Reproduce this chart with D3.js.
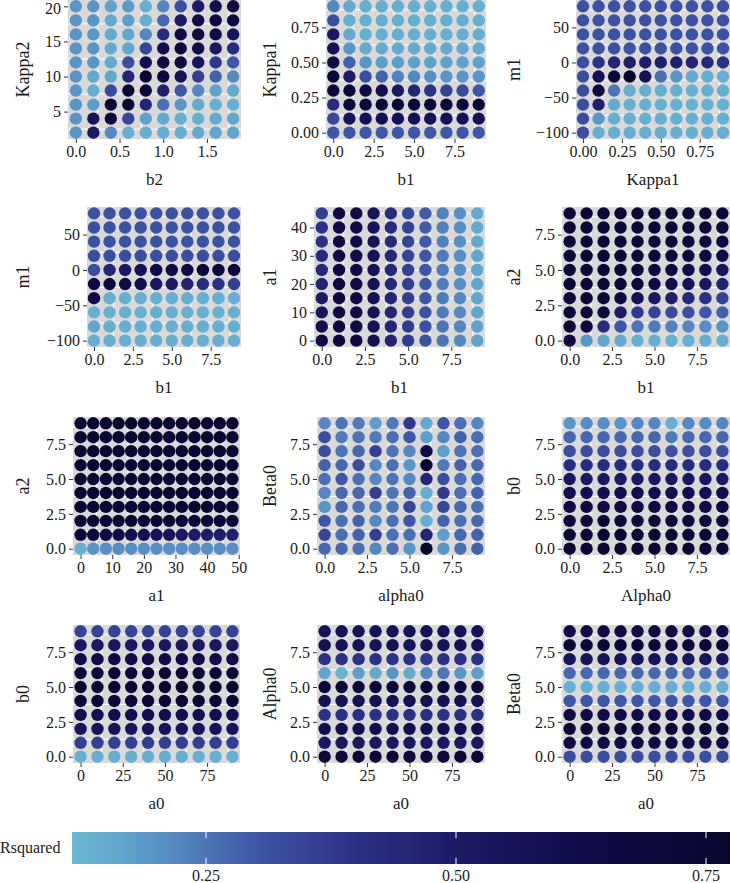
<!DOCTYPE html>
<meta charset="utf-8">
<script src="https://d3js.org/d3.v7.min.js"></script>
<style>
  body { margin: 0; background: #fff; }
  text { font-family: "Liberation Serif", "Times New Roman", "DejaVu Serif", serif; fill: #1a1a1a; }
</style>
<body>
<div id="my_dataviz"></div>
<script>

// ---------- data (rows listed from top of each panel to bottom) ----------
var b2 = [0, 0.2, 0.4, 0.6, 0.8, 1.0, 1.2, 1.4, 1.6, 1.8];
var b1 = [0, 1, 2, 3, 4, 5, 6, 7, 8, 9];
var kappa1Cols = [0, 0.1, 0.2, 0.3, 0.4, 0.5, 0.6, 0.7, 0.8, 0.9];
var a1Cols = [0, 4, 8, 12, 16, 20, 24, 28, 32, 36, 40, 44, 48];
var alpha0Cols = [0, 1, 2, 3, 4, 5, 6, 7, 8, 9];
var a0 = [0, 10, 20, 30, 40, 50, 60, 70, 80, 90];

var kappa2Rows = [20, 18, 16, 14, 12, 10, 8, 6, 4, 2];
var kappa1Rows = [0.9, 0.8, 0.7, 0.6, 0.5, 0.4, 0.3, 0.2, 0.1, 0];
var m1Rows = [80, 60, 40, 20, 0, -20, -40, -60, -80, -100];
var a1Rows = [45, 40, 35, 30, 25, 20, 15, 10, 5, 0];
var a2Rows = [9, 8, 7, 6, 5, 4, 3, 2, 1, 0];
var beta0Rows = [9, 8, 7, 6, 5, 4, 3, 2, 1, 0];
var b0Rows = [9, 8, 7, 6, 5, 4, 3, 2, 1, 0];
var alpha0Rows = [9, 8, 7, 6, 5, 4, 3, 2, 1, 0];

var rsqB2Kappa2 = [
  [0.20,0.20,0.17,0.19,0.14,0.22,0.32,0.50,0.60,0.66],
  [0.20,0.20,0.15,0.18,0.14,0.27,0.50,0.62,0.66,0.66],
  [0.20,0.20,0.15,0.16,0.22,0.42,0.62,0.66,0.62,0.55],
  [0.20,0.20,0.15,0.16,0.34,0.60,0.70,0.62,0.52,0.42],
  [0.20,0.20,0.15,0.32,0.60,0.70,0.68,0.55,0.38,0.30],
  [0.20,0.15,0.16,0.45,0.75,0.70,0.55,0.36,0.28,0.22],
  [0.20,0.14,0.33,0.75,0.72,0.48,0.30,0.22,0.17,0.15],
  [0.20,0.18,0.74,0.72,0.45,0.26,0.20,0.15,0.14,0.14],
  [0.20,0.55,0.72,0.34,0.17,0.15,0.14,0.14,0.15,0.16],
  [0.20,0.50,0.22,0.14,0.14,0.14,0.14,0.15,0.16,0.16]
];
var rsqB1Kappa1 = [
  [0.22,0.15,0.14,0.14,0.14,0.14,0.14,0.14,0.14,0.14],
  [0.32,0.14,0.14,0.14,0.14,0.14,0.14,0.14,0.14,0.14],
  [0.52,0.15,0.14,0.14,0.14,0.14,0.14,0.14,0.14,0.14],
  [0.58,0.20,0.15,0.15,0.15,0.15,0.15,0.15,0.15,0.15],
  [0.65,0.28,0.20,0.18,0.18,0.17,0.17,0.17,0.17,0.17],
  [0.72,0.50,0.32,0.28,0.23,0.22,0.21,0.20,0.20,0.20],
  [0.68,0.72,0.65,0.60,0.52,0.45,0.40,0.35,0.33,0.30],
  [0.42,0.68,0.70,0.72,0.72,0.72,0.72,0.72,0.72,0.72],
  [0.33,0.55,0.57,0.58,0.58,0.58,0.58,0.58,0.58,0.58],
  [0.30,0.30,0.30,0.30,0.30,0.30,0.30,0.30,0.30,0.30]
];
var rsqKappa1M1 = [
  [0.31,0.31,0.31,0.31,0.31,0.31,0.31,0.31,0.31,0.31],
  [0.31,0.31,0.31,0.31,0.31,0.31,0.31,0.31,0.31,0.31],
  [0.31,0.31,0.31,0.31,0.31,0.31,0.31,0.31,0.31,0.31],
  [0.31,0.31,0.31,0.31,0.31,0.31,0.31,0.31,0.31,0.31],
  [0.32,0.40,0.46,0.48,0.48,0.48,0.48,0.46,0.44,0.40],
  [0.32,0.58,0.72,0.76,0.58,0.26,0.20,0.15,0.14,0.14],
  [0.32,0.66,0.25,0.14,0.14,0.14,0.14,0.14,0.14,0.14],
  [0.32,0.48,0.15,0.14,0.14,0.14,0.14,0.14,0.14,0.14],
  [0.32,0.20,0.14,0.14,0.14,0.14,0.14,0.14,0.14,0.14],
  [0.32,0.14,0.14,0.14,0.14,0.14,0.14,0.14,0.14,0.14]
];
var rsqB1M1 = [
  [0.31,0.31,0.31,0.31,0.31,0.31,0.31,0.31,0.31,0.31],
  [0.31,0.31,0.31,0.31,0.31,0.31,0.31,0.31,0.31,0.31],
  [0.31,0.31,0.31,0.31,0.31,0.31,0.31,0.31,0.31,0.31],
  [0.32,0.32,0.32,0.32,0.32,0.32,0.32,0.32,0.32,0.32],
  [0.32,0.45,0.52,0.58,0.64,0.64,0.66,0.70,0.70,0.72],
  [0.64,0.68,0.64,0.60,0.52,0.50,0.46,0.42,0.40,0.36],
  [0.64,0.14,0.14,0.14,0.14,0.14,0.14,0.14,0.14,0.14],
  [0.14,0.14,0.14,0.14,0.14,0.14,0.14,0.14,0.14,0.14],
  [0.16,0.14,0.14,0.14,0.14,0.14,0.14,0.14,0.14,0.14],
  [0.14,0.14,0.14,0.14,0.14,0.14,0.14,0.14,0.14,0.14]
];
var rsqB1A1 = [
  [0.36,0.66,0.62,0.55,0.42,0.34,0.29,0.23,0.21,0.15],
  [0.40,0.66,0.62,0.55,0.43,0.35,0.29,0.23,0.21,0.15],
  [0.40,0.67,0.63,0.55,0.43,0.35,0.29,0.23,0.21,0.15],
  [0.42,0.67,0.63,0.56,0.44,0.35,0.30,0.24,0.21,0.16],
  [0.44,0.68,0.64,0.56,0.44,0.36,0.30,0.24,0.21,0.16],
  [0.46,0.68,0.64,0.56,0.44,0.36,0.30,0.24,0.21,0.16],
  [0.50,0.68,0.64,0.57,0.45,0.36,0.30,0.24,0.22,0.16],
  [0.54,0.69,0.65,0.57,0.45,0.37,0.31,0.24,0.22,0.16],
  [0.60,0.70,0.65,0.57,0.45,0.37,0.31,0.25,0.22,0.17],
  [0.66,0.70,0.66,0.58,0.46,0.37,0.31,0.25,0.22,0.17]
];
var rsqB1A2 = [
  [0.72,0.72,0.72,0.72,0.72,0.72,0.72,0.72,0.71,0.70],
  [0.72,0.72,0.72,0.72,0.72,0.72,0.72,0.71,0.70,0.69],
  [0.72,0.72,0.72,0.72,0.72,0.71,0.71,0.70,0.69,0.67],
  [0.72,0.72,0.72,0.72,0.71,0.70,0.69,0.68,0.66,0.63],
  [0.72,0.72,0.72,0.71,0.70,0.68,0.66,0.64,0.60,0.56],
  [0.72,0.72,0.71,0.70,0.67,0.64,0.60,0.56,0.52,0.47],
  [0.72,0.72,0.72,0.68,0.58,0.52,0.48,0.44,0.40,0.35],
  [0.72,0.72,0.68,0.50,0.38,0.35,0.33,0.32,0.30,0.28],
  [0.72,0.70,0.42,0.30,0.25,0.24,0.23,0.22,0.21,0.20],
  [0.66,0.20,0.16,0.15,0.14,0.14,0.14,0.14,0.14,0.14]
];
var rsqA1A2 = [
  [0.74,0.74,0.74,0.74,0.74,0.74,0.74,0.74,0.74,0.74,0.74,0.74,0.74],
  [0.74,0.74,0.74,0.74,0.74,0.74,0.74,0.74,0.74,0.74,0.74,0.74,0.74],
  [0.74,0.74,0.74,0.74,0.74,0.74,0.74,0.74,0.74,0.74,0.74,0.74,0.74],
  [0.74,0.74,0.74,0.74,0.74,0.74,0.74,0.74,0.74,0.74,0.74,0.74,0.74],
  [0.74,0.74,0.74,0.74,0.74,0.74,0.74,0.74,0.74,0.74,0.74,0.74,0.74],
  [0.74,0.74,0.74,0.74,0.74,0.74,0.74,0.74,0.74,0.74,0.74,0.74,0.74],
  [0.74,0.74,0.74,0.74,0.74,0.74,0.74,0.74,0.74,0.74,0.74,0.74,0.74],
  [0.74,0.74,0.74,0.74,0.73,0.73,0.73,0.73,0.73,0.73,0.72,0.72,0.72],
  [0.70,0.68,0.64,0.62,0.60,0.58,0.56,0.54,0.52,0.50,0.49,0.48,0.47],
  [0.14,0.20,0.21,0.21,0.21,0.21,0.21,0.21,0.21,0.21,0.21,0.21,0.21]
];
var rsqAlpha0Beta0 = [
  [0.22,0.25,0.24,0.18,0.24,0.38,0.15,0.30,0.26,0.22],
  [0.32,0.24,0.25,0.24,0.26,0.30,0.18,0.22,0.28,0.26],
  [0.32,0.25,0.27,0.36,0.25,0.22,0.62,0.18,0.25,0.26],
  [0.28,0.27,0.32,0.22,0.26,0.20,0.75,0.24,0.28,0.27],
  [0.26,0.30,0.26,0.22,0.25,0.22,0.45,0.32,0.26,0.27],
  [0.22,0.27,0.27,0.36,0.25,0.28,0.14,0.38,0.26,0.28],
  [0.20,0.27,0.26,0.24,0.25,0.34,0.17,0.34,0.27,0.26],
  [0.30,0.26,0.28,0.22,0.26,0.30,0.14,0.28,0.26,0.27],
  [0.34,0.26,0.28,0.36,0.26,0.26,0.45,0.18,0.27,0.28],
  [0.27,0.27,0.26,0.22,0.26,0.20,0.75,0.20,0.26,0.28]
];
var rsqAlpha0B0 = [
  [0.20,0.21,0.21,0.20,0.22,0.22,0.14,0.22,0.21,0.22],
  [0.27,0.27,0.27,0.27,0.27,0.27,0.24,0.27,0.27,0.27],
  [0.32,0.32,0.32,0.32,0.32,0.32,0.31,0.32,0.32,0.32],
  [0.42,0.42,0.42,0.42,0.42,0.42,0.42,0.42,0.42,0.42],
  [0.52,0.52,0.52,0.52,0.52,0.52,0.52,0.52,0.52,0.52],
  [0.60,0.60,0.60,0.60,0.60,0.60,0.60,0.60,0.60,0.60],
  [0.66,0.66,0.66,0.66,0.66,0.66,0.66,0.66,0.66,0.66],
  [0.70,0.70,0.70,0.70,0.70,0.70,0.70,0.70,0.70,0.70],
  [0.72,0.72,0.72,0.72,0.72,0.72,0.72,0.72,0.72,0.72],
  [0.73,0.73,0.73,0.73,0.73,0.73,0.73,0.73,0.73,0.73]
];
var rsqA0B0 = [
  [0.35,0.35,0.35,0.35,0.35,0.35,0.35,0.35,0.35,0.35],
  [0.52,0.52,0.52,0.52,0.52,0.52,0.52,0.52,0.52,0.52],
  [0.62,0.62,0.62,0.62,0.62,0.62,0.62,0.62,0.62,0.62],
  [0.70,0.70,0.70,0.70,0.70,0.70,0.70,0.70,0.70,0.70],
  [0.74,0.74,0.74,0.74,0.74,0.74,0.74,0.74,0.74,0.74],
  [0.72,0.72,0.72,0.72,0.72,0.72,0.72,0.72,0.72,0.72],
  [0.60,0.60,0.60,0.60,0.60,0.60,0.60,0.60,0.60,0.60],
  [0.55,0.55,0.55,0.55,0.55,0.55,0.55,0.55,0.55,0.55],
  [0.36,0.36,0.36,0.36,0.36,0.36,0.36,0.36,0.36,0.36],
  [0.14,0.14,0.14,0.14,0.14,0.14,0.14,0.14,0.14,0.14]
];
var rsqA0Alpha0 = [
  [0.56,0.56,0.56,0.56,0.56,0.56,0.56,0.56,0.56,0.56],
  [0.58,0.56,0.58,0.56,0.58,0.56,0.58,0.56,0.58,0.58],
  [0.40,0.40,0.40,0.40,0.40,0.40,0.38,0.40,0.40,0.40],
  [0.16,0.13,0.18,0.15,0.20,0.15,0.22,0.25,0.20,0.18],
  [0.70,0.70,0.70,0.70,0.70,0.70,0.72,0.70,0.70,0.72],
  [0.58,0.58,0.58,0.58,0.58,0.58,0.58,0.58,0.58,0.58],
  [0.40,0.40,0.40,0.40,0.40,0.40,0.40,0.40,0.40,0.40],
  [0.60,0.60,0.60,0.60,0.60,0.60,0.60,0.60,0.60,0.60],
  [0.52,0.52,0.52,0.52,0.52,0.52,0.52,0.52,0.52,0.52],
  [0.70,0.70,0.70,0.70,0.72,0.70,0.70,0.70,0.72,0.70]
];
var rsqA0Beta0 = [
  [0.62,0.62,0.62,0.62,0.62,0.62,0.62,0.62,0.62,0.62],
  [0.72,0.72,0.72,0.72,0.72,0.72,0.72,0.72,0.72,0.72],
  [0.55,0.55,0.55,0.55,0.55,0.55,0.55,0.55,0.55,0.55],
  [0.27,0.27,0.27,0.27,0.27,0.27,0.27,0.27,0.27,0.27],
  [0.14,0.14,0.14,0.14,0.14,0.14,0.14,0.14,0.14,0.14],
  [0.30,0.30,0.30,0.30,0.30,0.30,0.30,0.30,0.30,0.30],
  [0.62,0.62,0.62,0.62,0.62,0.62,0.62,0.62,0.62,0.62],
  [0.74,0.74,0.74,0.74,0.74,0.74,0.74,0.74,0.74,0.74],
  [0.64,0.64,0.64,0.64,0.64,0.64,0.64,0.64,0.64,0.64],
  [0.32,0.32,0.32,0.32,0.32,0.32,0.32,0.32,0.32,0.32]
];

var legendTicks = [0.25, 0.50, 0.75];
var legendRange = [0.116, 0.774];

// ---------- panels ----------
var panels = [
  { xs: b2, ys: kappa2Rows, z: rsqB2Kappa2, xt: [0, 0.5, 1, 1.5], yt: [5, 10, 15, 20], xf: ".1f", yf: "d", xl: "b2", yl: "Kappa2" },
  { xs: b1, ys: kappa1Rows, z: rsqB1Kappa1, xt: [0, 2.5, 5, 7.5], yt: [0, 0.25, 0.5, 0.75], xf: ".1f", yf: ".2f", xl: "b1", yl: "Kappa1" },
  { xs: kappa1Cols, ys: m1Rows, z: rsqKappa1M1, xt: [0, 0.25, 0.5, 0.75], yt: [-100, -50, 0, 50], xf: ".2f", yf: "d", xl: "Kappa1", yl: "m1" },
  { xs: b1, ys: m1Rows, z: rsqB1M1, xt: [0, 2.5, 5, 7.5], yt: [-100, -50, 0, 50], xf: ".1f", yf: "d", xl: "b1", yl: "m1" },
  { xs: b1, ys: a1Rows, z: rsqB1A1, xt: [0, 2.5, 5, 7.5], yt: [0, 10, 20, 30, 40], xf: ".1f", yf: "d", xl: "b1", yl: "a1" },
  { xs: b1, ys: a2Rows, z: rsqB1A2, xt: [0, 2.5, 5, 7.5], yt: [0, 2.5, 5, 7.5], xf: ".1f", yf: ".1f", xl: "b1", yl: "a2" },
  { xs: a1Cols, ys: a2Rows, z: rsqA1A2, xt: [0, 10, 20, 30, 40, 50], yt: [0, 2.5, 5, 7.5], xf: "d", yf: ".1f", xl: "a1", yl: "a2" },
  { xs: alpha0Cols, ys: beta0Rows, z: rsqAlpha0Beta0, xt: [0, 2.5, 5, 7.5], yt: [0, 2.5, 5, 7.5], xf: ".1f", yf: ".1f", xl: "alpha0", yl: "Beta0" },
  { xs: alpha0Cols, ys: b0Rows, z: rsqAlpha0B0, xt: [0, 2.5, 5, 7.5], yt: [0, 2.5, 5, 7.5], xf: ".1f", yf: ".1f", xl: "Alpha0", yl: "b0" },
  { xs: a0, ys: b0Rows, z: rsqA0B0, xt: [0, 25, 50, 75], yt: [0, 2.5, 5, 7.5], xf: "d", yf: ".1f", xl: "a0", yl: "b0" },
  { xs: a0, ys: alpha0Rows, z: rsqA0Alpha0, xt: [0, 25, 50, 75], yt: [0, 2.5, 5, 7.5], xf: "d", yf: ".1f", xl: "a0", yl: "Alpha0" },
  { xs: a0, ys: beta0Rows, z: rsqA0Beta0, xt: [0, 25, 50, 75], yt: [0, 2.5, 5, 7.5], xf: "d", yf: ".1f", xl: "a0", yl: "Beta0" }
];

// panel boxes: left, right, top, bottom (pixels)
var colsX = [[[68, 241], [326, 486], [576, 730]],
             [[87, 241], [314, 485], [562, 730]],
             [[73, 240], [317, 485], [562, 730]],
             [[73, 240], [317, 485], [562, 730]]];
var rowsY = [[0, 139], [207, 347], [417, 555], [625, 763]];
var titleX = [23, 270, 514];

var width = 730, height = 883;

var svg = d3.select("#my_dataviz")
  .append("svg")
  .attr("width", width)
  .attr("height", height);

// colour scale
var color = d3.scaleLinear()
  .domain([0.116, 0.2, 0.3, 0.4, 0.5, 0.62, 0.774])
  .range(["#6cb9d3", "#5a95c7", "#3f55a5", "#2b3184", "#1d1a66", "#110c48", "#08052d"])
  .clamp(true);

function expand(vals) {
  var lo = d3.min(vals), hi = d3.max(vals), r = hi - lo;
  return [lo - 0.05 * r, hi + 0.05 * r];
}

// midpoints between ticks (the white grid lines)
function minors(ticks, dom) {
  var step = ticks[1] - ticks[0];
  var out = [];
  for (var i = -1; i < ticks.length; i++) {
    var m = ticks[0] + (i + 0.5) * step;
    if (m > dom[0] && m < dom[1]) out.push(m);
  }
  return out;
}

panels.forEach(function (p, i) {
  var r = Math.floor(i / 3), c = i % 3;
  var L = colsX[r][c][0], R = colsX[r][c][1];
  var T = rowsY[r][0], B = rowsY[r][1];

  var xDom = expand(p.xs), yDom = expand(p.ys);
  var x = d3.scaleLinear().domain(xDom).range([L, R]);
  var y = d3.scaleLinear().domain(yDom).range([B, T]);

  var g = svg.append("g");

  g.append("rect")
    .attr("x", L).attr("y", T)
    .attr("width", R - L).attr("height", B - T)
    .attr("fill", "#d9d9d9");

  g.selectAll(".vgrid")
    .data(minors(p.xt, xDom))
    .enter().append("line")
    .attr("x1", function (d) { return x(d); })
    .attr("x2", function (d) { return x(d); })
    .attr("y1", T).attr("y2", B)
    .attr("stroke", "#fff").attr("stroke-width", 1);

  g.selectAll(".hgrid")
    .data(minors(p.yt, yDom))
    .enter().append("line")
    .attr("y1", function (d) { return y(d); })
    .attr("y2", function (d) { return y(d); })
    .attr("x1", L).attr("x2", R)
    .attr("stroke", "#fff").attr("stroke-width", 1);

  // points
  var pts = [];
  p.ys.forEach(function (yv, ri) {
    p.xs.forEach(function (xv, ci) {
      pts.push({ x: xv, y: yv, v: p.z[ri][ci] });
    });
  });
  g.selectAll("circle")
    .data(pts)
    .enter().append("circle")
    .attr("cx", function (d) { return x(d.x); })
    .attr("cy", function (d) { return y(d.y); })
    .attr("r", 6.2)
    .attr("fill", function (d) { return color(d.v); });

  // axes
  var xa = g.append("g")
    .attr("transform", "translate(0," + B + ")")
    .call(d3.axisBottom(x).tickValues(p.xt).tickFormat(d3.format(p.xf)).tickSize(4).tickPadding(3));
  var ya = g.append("g")
    .attr("transform", "translate(" + L + ",0)")
    .call(d3.axisLeft(y).tickValues(p.yt).tickFormat(d3.format(p.yf)).tickSize(4).tickPadding(3));
  [xa, ya].forEach(function (a) {
    a.attr("font-family", null);
    a.select(".domain").remove();
    a.selectAll(".tick line").attr("stroke", "#333");
    a.selectAll(".tick text")
      .style("font-size", "16px")
      .attr("fill", "#1a1a1a");
  });
  // keep the top tick label inside the picture
  ya.selectAll(".tick text").attr("dy", function (d) {
    return y(d) < 8 ? "0.45em" : "0.32em";
  });

  g.append("text")
    .attr("x", (L + R) / 2)
    .attr("y", B + 46)
    .attr("text-anchor", "middle")
    .style("font-size", "17px")
    .text(p.xl);

  g.append("text")
    .attr("transform", "translate(" + titleX[c] + "," + (T + B) / 2 + ") rotate(-90)")
    .attr("text-anchor", "middle")
    .attr("dy", "0.35em")
    .style("font-size", "18px")
    .text(p.yl);
});

// colour bar
var barTop = 832, barBot = 864;
var lx = d3.scaleLinear().domain(legendRange).range([72, 730]);
var defs = svg.append("defs");
var grad = defs.append("linearGradient").attr("id", "rsqGrad");
d3.range(0, 1.0001, 0.05).forEach(function (t) {
  grad.append("stop")
    .attr("offset", (t * 100) + "%")
    .attr("stop-color", color(legendRange[0] + t * (legendRange[1] - legendRange[0])));
});
svg.append("rect")
  .attr("x", 72).attr("y", barTop)
  .attr("width", 658).attr("height", barBot - barTop)
  .attr("fill", "url(#rsqGrad)");

svg.selectAll(".ltick")
  .data(legendTicks)
  .enter().append("g")
  .each(function (d) {
    var s = d3.select(this);
    s.append("line").attr("x1", lx(d)).attr("x2", lx(d)).attr("y1", barTop).attr("y2", barTop + 6)
      .attr("stroke", "#fff").attr("stroke-width", 1);
    s.append("line").attr("x1", lx(d)).attr("x2", lx(d)).attr("y1", barBot - 6).attr("y2", barBot)
      .attr("stroke", "#fff").attr("stroke-width", 1);
    s.append("text").attr("x", lx(d)).attr("y", 881)
      .attr("text-anchor", "middle")
      .style("font-size", "16px")
      .text(d3.format(".2f")(d));
  });

svg.append("text")
  .attr("x", 0).attr("y", 853)
  .style("font-size", "16px")
  .text("Rsquared");

</script>
</body>
